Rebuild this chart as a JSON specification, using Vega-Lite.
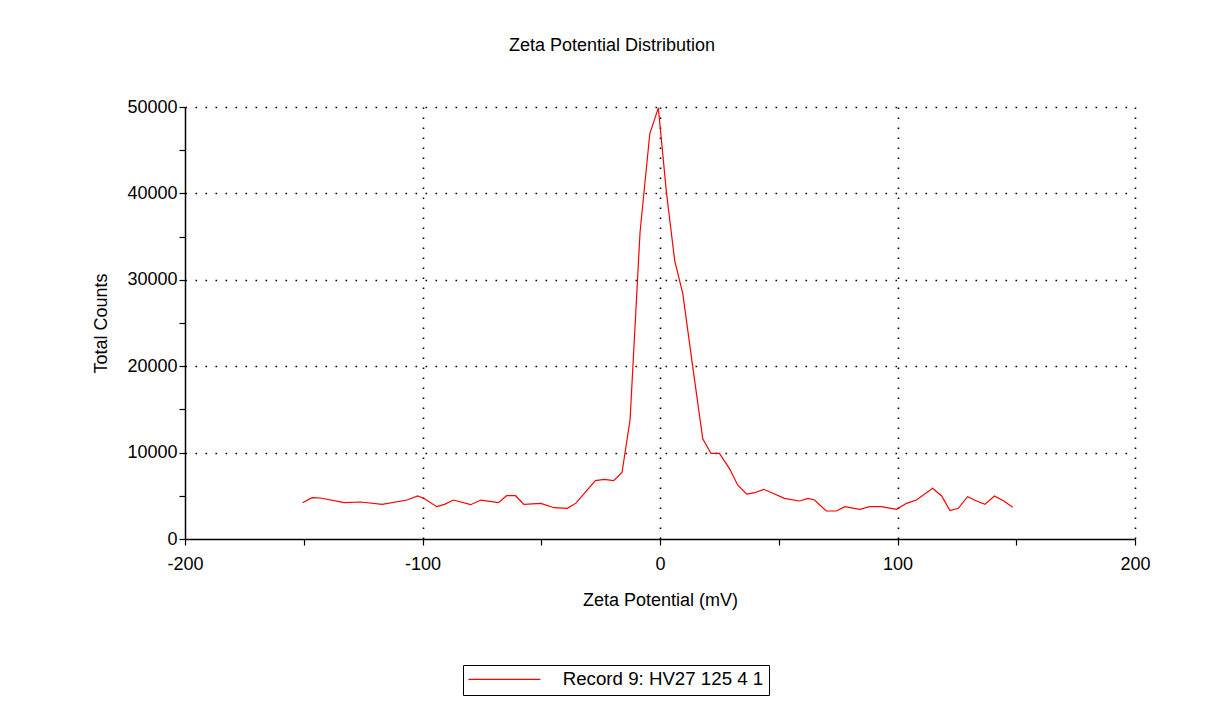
{
  "$schema": "https://vega.github.io/schema/vega-lite/v6.json",
  "width": 950,
  "height": 432,
  "autosize": {"type": "none"},
  "padding": {"left": 185, "top": 107, "right": 72, "bottom": 165},
  "background": "white",
  "config": {
    "font": "Liberation Sans",
    "view": {"stroke": null}
  },
  "title": {
    "text": "Zeta Potential Distribution",
    "fontSize": 18,
    "fontWeight": "normal",
    "color": "black",
    "font": "Liberation Sans",
    "anchor": "middle",
    "dx": -48,
    "offset": 43
  },
  "data": {
    "values": [
      {"zeta": -150.5, "counts": 4200, "series": "Record 9: HV27 125 4 1"},
      {"zeta": -146.5, "counts": 4780, "series": "Record 9: HV27 125 4 1"},
      {"zeta": -143, "counts": 4745, "series": "Record 9: HV27 125 4 1"},
      {"zeta": -133, "counts": 4200, "series": "Record 9: HV27 125 4 1"},
      {"zeta": -126, "counts": 4280, "series": "Record 9: HV27 125 4 1"},
      {"zeta": -117, "counts": 4010, "series": "Record 9: HV27 125 4 1"},
      {"zeta": -106.5, "counts": 4510, "series": "Record 9: HV27 125 4 1"},
      {"zeta": -102, "counts": 4980, "series": "Record 9: HV27 125 4 1"},
      {"zeta": -99.5, "counts": 4710, "series": "Record 9: HV27 125 4 1"},
      {"zeta": -94, "counts": 3740, "series": "Record 9: HV27 125 4 1"},
      {"zeta": -90.7, "counts": 4010, "series": "Record 9: HV27 125 4 1"},
      {"zeta": -87, "counts": 4510, "series": "Record 9: HV27 125 4 1"},
      {"zeta": -79.7, "counts": 3970, "series": "Record 9: HV27 125 4 1"},
      {"zeta": -75.5, "counts": 4510, "series": "Record 9: HV27 125 4 1"},
      {"zeta": -68, "counts": 4200, "series": "Record 9: HV27 125 4 1"},
      {"zeta": -64.6, "counts": 5010, "series": "Record 9: HV27 125 4 1"},
      {"zeta": -60.8, "counts": 5010, "series": "Record 9: HV27 125 4 1"},
      {"zeta": -57.3, "counts": 4010, "series": "Record 9: HV27 125 4 1"},
      {"zeta": -50.2, "counts": 4130, "series": "Record 9: HV27 125 4 1"},
      {"zeta": -44.6, "counts": 3620, "series": "Record 9: HV27 125 4 1"},
      {"zeta": -39, "counts": 3550, "series": "Record 9: HV27 125 4 1"},
      {"zeta": -35.4, "counts": 4150, "series": "Record 9: HV27 125 4 1"},
      {"zeta": -27.2, "counts": 6750, "series": "Record 9: HV27 125 4 1"},
      {"zeta": -23.5, "counts": 6910, "series": "Record 9: HV27 125 4 1"},
      {"zeta": -19.5, "counts": 6750, "series": "Record 9: HV27 125 4 1"},
      {"zeta": -16, "counts": 7700, "series": "Record 9: HV27 125 4 1"},
      {"zeta": -12.6, "counts": 13800, "series": "Record 9: HV27 125 4 1"},
      {"zeta": -8.4, "counts": 35500, "series": "Record 9: HV27 125 4 1"},
      {"zeta": -4.3, "counts": 46900, "series": "Record 9: HV27 125 4 1"},
      {"zeta": -0.7, "counts": 49900, "series": "Record 9: HV27 125 4 1"},
      {"zeta": 2.7, "counts": 40150, "series": "Record 9: HV27 125 4 1"},
      {"zeta": 6.2, "counts": 32200, "series": "Record 9: HV27 125 4 1"},
      {"zeta": 9.6, "counts": 28400, "series": "Record 9: HV27 125 4 1"},
      {"zeta": 13.5, "counts": 20500, "series": "Record 9: HV27 125 4 1"},
      {"zeta": 18, "counts": 11600, "series": "Record 9: HV27 125 4 1"},
      {"zeta": 21.5, "counts": 9900, "series": "Record 9: HV27 125 4 1"},
      {"zeta": 25, "counts": 9900, "series": "Record 9: HV27 125 4 1"},
      {"zeta": 29.2, "counts": 8180, "series": "Record 9: HV27 125 4 1"},
      {"zeta": 32.7, "counts": 6250, "series": "Record 9: HV27 125 4 1"},
      {"zeta": 36.5, "counts": 5200, "series": "Record 9: HV27 125 4 1"},
      {"zeta": 39.8, "counts": 5360, "series": "Record 9: HV27 125 4 1"},
      {"zeta": 43.7, "counts": 5750, "series": "Record 9: HV27 125 4 1"},
      {"zeta": 47.5, "counts": 5290, "series": "Record 9: HV27 125 4 1"},
      {"zeta": 52.4, "counts": 4710, "series": "Record 9: HV27 125 4 1"},
      {"zeta": 58.8, "counts": 4400, "series": "Record 9: HV27 125 4 1"},
      {"zeta": 62.3, "counts": 4710, "series": "Record 9: HV27 125 4 1"},
      {"zeta": 65.1, "counts": 4510, "series": "Record 9: HV27 125 4 1"},
      {"zeta": 70, "counts": 3240, "series": "Record 9: HV27 125 4 1"},
      {"zeta": 74.3, "counts": 3240, "series": "Record 9: HV27 125 4 1"},
      {"zeta": 77.8, "counts": 3740, "series": "Record 9: HV27 125 4 1"},
      {"zeta": 84.1, "counts": 3440, "series": "Record 9: HV27 125 4 1"},
      {"zeta": 88.3, "counts": 3740, "series": "Record 9: HV27 125 4 1"},
      {"zeta": 93.2, "counts": 3740, "series": "Record 9: HV27 125 4 1"},
      {"zeta": 99.6, "counts": 3440, "series": "Record 9: HV27 125 4 1"},
      {"zeta": 103.8, "counts": 4130, "series": "Record 9: HV27 125 4 1"},
      {"zeta": 108, "counts": 4510, "series": "Record 9: HV27 125 4 1"},
      {"zeta": 114.8, "counts": 5870, "series": "Record 9: HV27 125 4 1"},
      {"zeta": 118.6, "counts": 4980, "series": "Record 9: HV27 125 4 1"},
      {"zeta": 122.1, "counts": 3280, "series": "Record 9: HV27 125 4 1"},
      {"zeta": 125.6, "counts": 3550, "series": "Record 9: HV27 125 4 1"},
      {"zeta": 129.5, "counts": 4900, "series": "Record 9: HV27 125 4 1"},
      {"zeta": 133.3, "counts": 4400, "series": "Record 9: HV27 125 4 1"},
      {"zeta": 136.8, "counts": 4010, "series": "Record 9: HV27 125 4 1"},
      {"zeta": 140.8, "counts": 4980, "series": "Record 9: HV27 125 4 1"},
      {"zeta": 144.6, "counts": 4430, "series": "Record 9: HV27 125 4 1"},
      {"zeta": 148.5, "counts": 3670, "series": "Record 9: HV27 125 4 1"}
    ]
  },
  "mark": {"type": "line", "strokeWidth": 1.2, "interpolate": "linear"},
  "encoding": {
    "x": {
      "field": "zeta",
      "type": "quantitative",
      "scale": {"domain": [-200, 200], "nice": false, "zero": false},
      "axis": {
        "title": "Zeta Potential (mV)",
        "titleFontSize": 18,
        "titleFontWeight": "normal",
        "titleColor": "black",
        "titlePadding": 18,
        "values": [-200, -150, -100, -50, 0, 50, 100, 150, 200],
        "labelExpr": "datum.value % 100 === 0 ? datum.value : ''",
        "labelFontSize": 18,
        "labelColor": "black",
        "labelPadding": 10,
        "labelFlush": false,
        "labelOverlap": false,
        "domainColor": "black",
        "domainWidth": 1.5,
        "tickColor": "black",
        "tickSize": 6,
        "tickWidth": 1.2,
        "grid": true,
        "gridColor": "black",
        "gridWidth": 1.6,
        "gridDash": [1.6, 8.4],
        "gridOpacity": {"condition": {"test": "datum.value % 100 !== 0 || datum.value === -200", "value": 0}, "value": 1}
      }
    },
    "y": {
      "field": "counts",
      "type": "quantitative",
      "scale": {"domain": [0, 50000], "nice": false},
      "axis": {
        "title": "Total Counts",
        "titleFontSize": 18,
        "titleFontWeight": "normal",
        "titleColor": "black",
        "titlePadding": 16,
        "values": [0, 5000, 10000, 15000, 20000, 25000, 30000, 35000, 40000, 45000, 50000],
        "labelExpr": "datum.value % 10000 === 0 ? datum.value : ''",
        "labelFontSize": 18,
        "labelColor": "black",
        "labelPadding": 2,
        "labelFlush": false,
        "labelOverlap": false,
        "domainColor": "black",
        "domainWidth": 1.5,
        "tickColor": "black",
        "tickSize": 6,
        "tickWidth": 1.2,
        "grid": true,
        "gridColor": "black",
        "gridWidth": 1.6,
        "gridDash": [1.6, 8.4],
        "gridOpacity": {"condition": {"test": "datum.value % 10000 !== 0 || datum.value === 0", "value": 0}, "value": 1}
      }
    },
    "color": {
      "field": "series",
      "type": "nominal",
      "scale": {"range": ["#ff0000"]},
      "legend": {
        "title": null,
        "orient": "none",
        "legendX": 278,
        "legendY": 558,
        "strokeColor": "black",
        "padding": 5,
        "symbolType": "M-1.5,0H10.5",
        "symbolSize": 144,
        "symbolStrokeWidth": 1.2,
        "labelFontSize": 18.7,
        "labelColor": "black",
        "labelLimit": 400,
        "labelOffset": 76
      }
    }
  }
}
